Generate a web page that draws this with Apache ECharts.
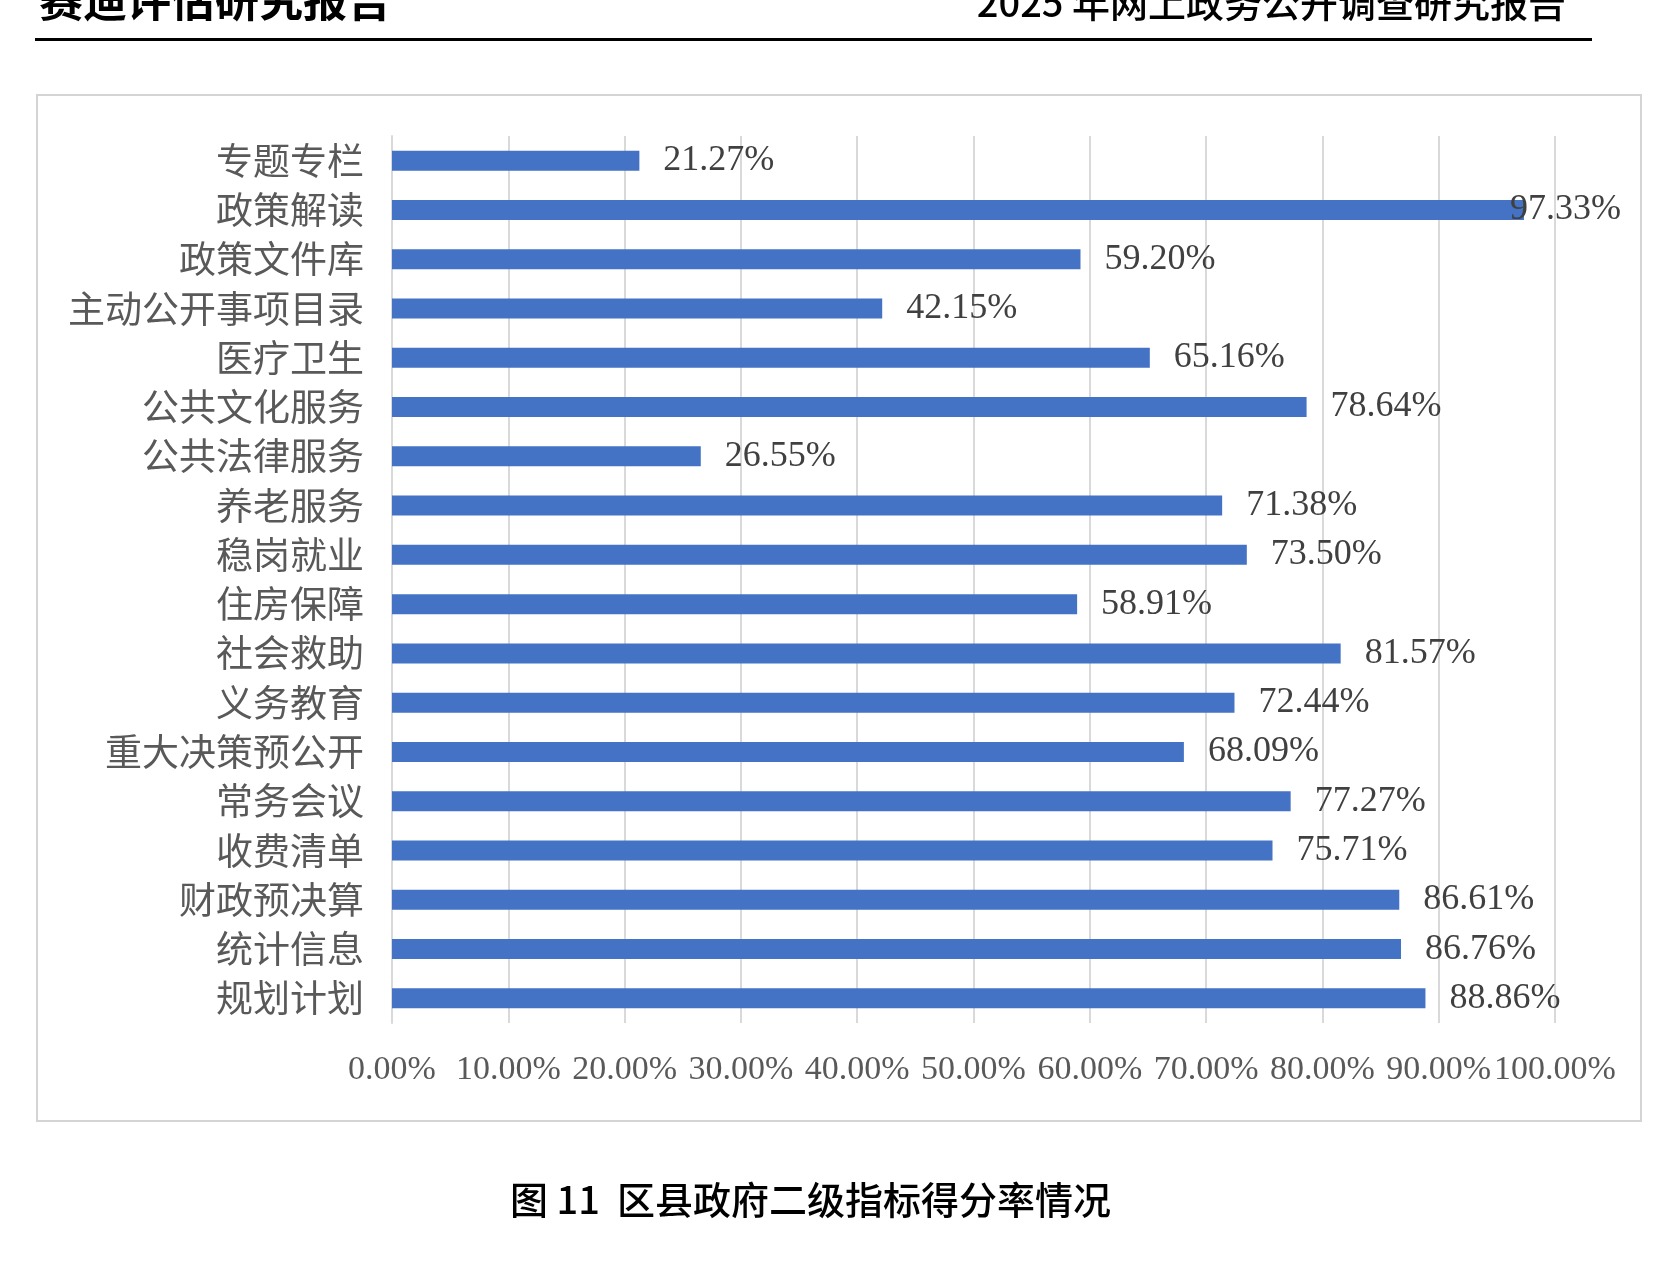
<!DOCTYPE html>
<html>
<head>
<meta charset="utf-8">
<script src="https://cdn.jsdelivr.net/npm/echarts@6/dist/echarts.min.js"></script>
<style>
  html, body { margin: 0; padding: 0; background: #fff; }
  #chart { width: 1665px; height: 1262px; }
</style>
</head>
<body>
<div id="chart"></div>
<script>
// 区县政府二级指标得分率 (%)
const categories = [
  "专题专栏", "政策解读", "政策文件库", "主动公开事项目录", "医疗卫生",
  "公共文化服务", "公共法律服务", "养老服务", "稳岗就业", "住房保障",
  "社会救助", "义务教育", "重大决策预公开", "常务会议", "收费清单",
  "财政预决算", "统计信息", "规划计划"
];
const rates = [
  21.27, 97.33, 59.20, 42.15, 65.16,
  78.64, 26.55, 71.38, 73.50, 58.91,
  81.57, 72.44, 68.09, 77.27, 75.71,
  86.61, 86.76, 88.86
];
const headerLeft = "赛迪评估研究报告";
const headerRight = "2025 年网上政务公开调查研究报告";
const caption = "图 11  区县政府二级指标得分率情况";

const numFont = "'Liberation Serif', 'Noto Sans CJK SC', serif";
const cjkFont = "'Noto Sans CJK SC', sans-serif";

const option = {
  backgroundColor: "#fff",
  animation: false,
  grid: {
    left: 392,
    right: 110,
    top: 136,
    bottom: 239,
    containLabel: false
  },
  xAxis: {
    type: "value",
    min: 0,
    max: 100,
    interval: 10,
    axisLine: { show: false },
    axisTick: { show: false },
    splitLine: { show: true, lineStyle: { color: "#d9d9d9", width: 2 } },
    axisLabel: {
      margin: 30,
      fontSize: 34,
      fontFamily: numFont,
      color: "#595959",
      formatter: (v) => v.toFixed(2) + "%"
    }
  },
  yAxis: {
    type: "category",
    inverse: true,
    data: categories,
    axisLine: { show: true, lineStyle: { color: "#d9d9d9", width: 2 } },
    axisTick: { show: false },
    axisLabel: {
      margin: 28,
      fontSize: 37,
      fontFamily: cjkFont,
      color: "#595959"
    }
  },
  series: [
    {
      type: "bar",
      barWidth: 20,
      itemStyle: { color: "#4472c4" },
      label: {
        show: true,
        position: "right",
        distance: 24,
        fontSize: 36,
        fontFamily: numFont,
        color: "#404040",
        formatter: (p) => p.value.toFixed(2) + "%"
      },
      data: rates.map((v) => {
        // the longest bar has its label pushed back over the bar end
        if (v > 95) return { value: v, label: { distance: -14 } };
        return v;
      })
    }
  ],
  graphic: [
    {
      type: "text",
      left: 39,
      top: -22,
      style: {
        text: headerLeft,
        font: "bold 44px 'Noto Sans CJK SC'",
        fill: "#000"
      }
    },
    {
      type: "text",
      right: 1665 - 1566,
      top: -16,
      style: {
        text: headerRight,
        font: "500 38px 'Noto Sans CJK SC'",
        fill: "#000"
      }
    },
    {
      type: "rect",
      shape: { x: 35, y: 38, width: 1557, height: 3 },
      style: { fill: "#000" }
    },
    {
      type: "rect",
      shape: { x: 37, y: 95, width: 1604, height: 1026 },
      style: { fill: "none", stroke: "#d4d4d4", lineWidth: 2 }
    },
    {
      type: "text",
      left: 510,
      top: 1181,
      style: {
        text: caption,
        font: "500 38px 'Noto Sans CJK SC'",
        fill: "#000"
      }
    }
  ]
};

const chart = echarts.init(document.getElementById("chart"));
chart.setOption(option);
</script>
</body>
</html>
